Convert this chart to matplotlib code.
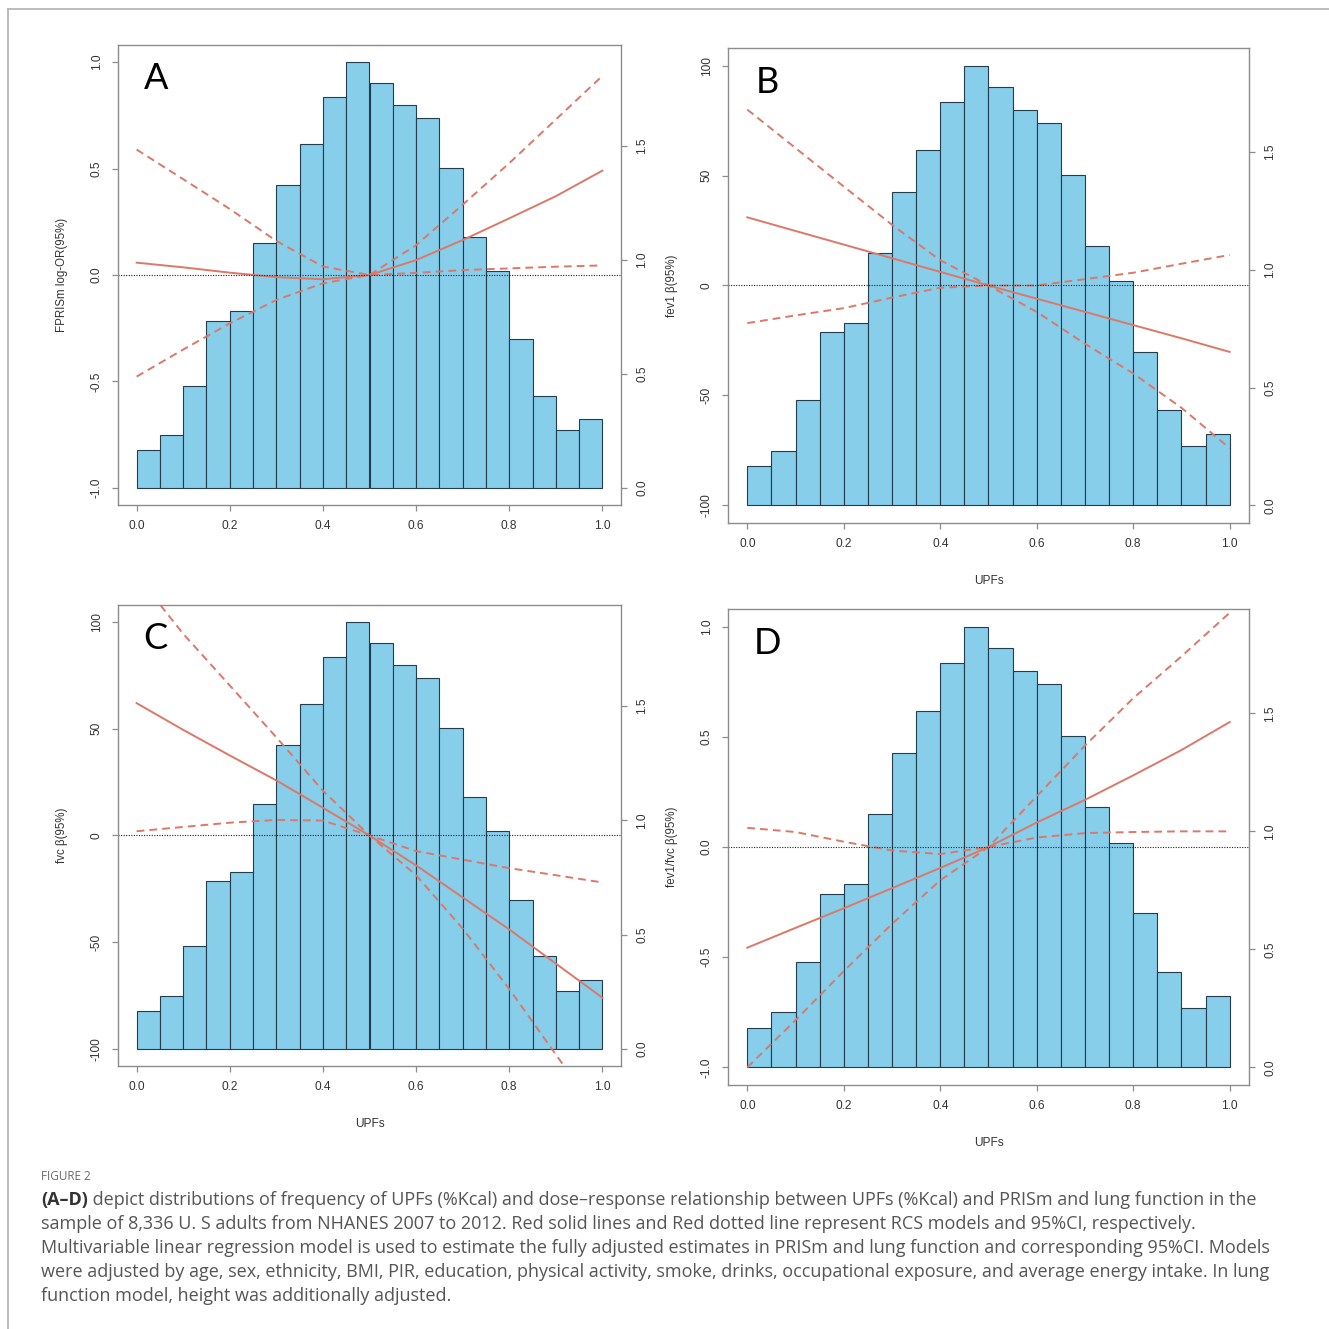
import matplotlib
matplotlib.use("Agg")
import matplotlib.pyplot as plt
from matplotlib.lines import Line2D

W, H = 1329, 1329

# ---- data ----
bin_left = [0.00, 0.05, 0.10, 0.15, 0.20, 0.25, 0.30, 0.35, 0.40, 0.45,
            0.50, 0.55, 0.60, 0.65, 0.70, 0.75, 0.80, 0.85, 0.90, 0.95]
density = [0.168, 0.233, 0.448, 0.734, 0.776, 1.072, 1.330, 1.509, 1.714, 1.867,
           1.776, 1.680, 1.623, 1.403, 1.101, 0.952, 0.653, 0.405, 0.252, 0.302]

upf = [0.0, 0.1, 0.2, 0.3, 0.4, 0.5, 0.6, 0.7, 0.8, 0.9, 1.0]

# A: PRISm log-OR
a_fit = [0.058, 0.036, 0.011, -0.010, -0.020, 0.0, 0.070, 0.164, 0.266, 0.370, 0.490]
a_ci1 = [-0.477, -0.350, -0.227, -0.117, -0.039, 0.0, 0.140, 0.330, 0.525, 0.730, 0.935]
a_ci2 = [0.589, 0.450, 0.310, 0.160, 0.040, 0.0, 0.010, 0.023, 0.031, 0.039, 0.045]

# B: fev1 beta
b_fit = [31.0, 24.8, 18.6, 12.4, 6.2, 0.0, -6.0, -12.0, -18.0, -24.0, -30.2]
b_ci1 = [80.0, 62.5, 45.0, 27.6, 11.5, 0.0, -12.0, -26.5, -40.0, -55.6, -74.0]
b_ci2 = [-17.1, -13.6, -10.3, -5.5, -1.0, 0.0, 0.0, 2.9, 5.8, 9.9, 13.9]

# C: fvc beta
c_fit = [62.0, 49.5, 37.5, 25.8, 13.0, 0.0, -14.0, -29.0, -44.0, -60.0, -76.0]
c_ci1 = [122.0, 94.5, 70.3, 46.0, 21.0, 0.0, -18.6, -43.6, -71.9, -102.6, -133.0]
c_ci2 = [2.0, 4.0, 6.0, 7.3, 7.0, 0.0, -7.3, -11.3, -15.3, -18.6, -22.0]

# D: fev1/fvc beta
d_fit = [-0.457, -0.367, -0.278, -0.187, -0.095, 0.0, 0.111, 0.214, 0.325, 0.440, 0.567]
d_ci1 = [-1.000, -0.786, -0.563, -0.349, -0.151, 0.0, 0.230, 0.460, 0.675, 0.865, 1.063]
d_ci2 = [0.087, 0.068, 0.024, -0.016, -0.032, 0.0, 0.043, 0.063, 0.068, 0.071, 0.071]

x_ticks = [0.0, 0.2, 0.4, 0.6, 0.8, 1.0]
dens_ticks = [0.0, 0.5, 1.0, 1.5]

caption_lines = [
    " depict distributions of frequency of UPFs (%Kcal) and dose\u2013response relationship between UPFs (%Kcal) and PRISm and lung function in the",
    "sample of 8,336 U. S adults from NHANES 2007 to 2012. Red solid lines and Red dotted line represent RCS models and 95%CI, respectively.",
    "Multivariable linear regression model is used to estimate the fully adjusted estimates in PRISm and lung function and corresponding 95%CI. Models",
    "were adjusted by age, sex, ethnicity, BMI, PIR, education, physical activity, smoke, drinks, occupational exposure, and average energy intake. In lung",
    "function model, height was additionally adjusted.",
]

# ---- panels: (letter, fit, ci1, ci2, ylim half-range, ylabel, show xlabel, pixel box l, r, t, b)
panels = [
    ("A", a_fit, a_ci1, a_ci2, 1.0, "FPRISm log-OR(95%)", False, 118, 621, 45, 505),
    ("B", b_fit, b_ci1, b_ci2, 100, "fev1 \u03b2(95%)", True, 728, 1249, 48, 523),
    ("C", c_fit, c_ci1, c_ci2, 100, "fvc \u03b2(95%)", True, 118, 621, 605, 1066),
    ("D", d_fit, d_ci1, d_ci2, 1.0, "fev1/fvc \u03b2(95%)", True, 728, 1249, 609, 1085),
]

line_col = "#dc7868"
box_col = "#8c8c8c"
tick_font = "Liberation Sans"

fig = plt.figure(figsize=(W / 100, H / 100), dpi=100)
fig.patch.set_facecolor("white")

dmax = max(density)
for letter, fit, ci1, ci2, yr, ylab, xlab, l, r, t, b in panels:
    rect = [l / W, 1 - b / H, (r - l) / W, (b - t) / H]
    ax = fig.add_axes(rect)
    ax2 = ax.twinx()
    ax.set_zorder(ax2.get_zorder() + 1)
    ax.patch.set_visible(False)

    ax2.bar(bin_left, density, width=0.05, align="edge", color="#87CEEB",
            edgecolor="#243c4c", linewidth=0.8)
    ax2.set_ylim(-0.04 * dmax, 1.04 * dmax)
    ax2.set_yticks(dens_ticks)
    ax2.set_yticklabels([f"{v:.1f}" for v in dens_ticks])
    for s in ax2.spines.values():
        s.set_visible(False)

    ax.plot(upf, ci1, color=line_col, lw=1.4, ls=(0, (4, 2.6)))
    ax.plot(upf, ci2, color=line_col, lw=1.4, ls=(0, (4, 2.6)))
    ax.plot(upf, fit, color=line_col, lw=1.4)
    ax.axhline(0, color="#222222", lw=0.8, ls=(0, (1, 1.3)))

    ax.set_xlim(-0.04, 1.04)
    ax.set_ylim(-1.08 * yr, 1.08 * yr)
    ax.set_xticks(x_ticks)
    ax.set_xticklabels([f"{v:.1f}" for v in x_ticks])
    yt = [-yr, -yr / 2, 0, yr / 2, yr]
    ax.set_yticks(yt)
    if yr == 1.0:
        ax.set_yticklabels([f"{v:.1f}" for v in yt])
    else:
        ax.set_yticklabels([f"{v:.0f}" for v in yt])

    for s in ax.spines.values():
        s.set_color(box_col)
        s.set_linewidth(1.0)

    for a in (ax, ax2):
        a.tick_params(length=4, width=0.9, color=box_col, labelsize=8.6,
                      labelcolor="#333333", pad=7)
    ax.tick_params(axis="y", labelrotation=90)
    ax2.tick_params(axis="y", labelrotation=90)
    for lab in ax.get_yticklabels() + ax2.get_yticklabels():
        lab.set_va("center")
        lab.set_family(tick_font)
    for lab in ax.get_xticklabels():
        lab.set_family(tick_font)

    ax.set_ylabel(ylab, fontsize=8.3, color="#333333", family=tick_font)
    ax.yaxis.set_label_coords(-50 / (r - l), 0.5)
    if xlab:
        ax.set_xlabel("UPFs", fontsize=8.6, color="#333333", family=tick_font)
        ax.xaxis.set_label_coords(0.5, -52 / (b - t))

    ax.text(0.075, 0.928, letter, transform=ax.transAxes, fontsize=26,
            family="Lato", color="black", ha="center", va="center")

# ---- frame lines of the journal page ----
fig.add_artist(Line2D([7.5 / W, 1.0], [1 - 9 / H, 1 - 9 / H], color="#b0b0b0", lw=1.2))
fig.add_artist(Line2D([7.5 / W, 7.5 / W], [0.0, 1 - 9 / H], color="#b0b0b0", lw=1.2))

# ---- caption ----
cap_font = "Open Sans"
cap_col = "#555555"
fig.text(41 / W, 1 - 1177 / H, "FIGURE 2", fontsize=8.5, color="#6a6a6a",
         family=cap_font, va="center", ha="left")

renderer = fig.canvas.get_renderer()
size = 11.0
bold = fig.text(41 / W, 1 - 1200 / H, "(A\u2013D)", fontsize=size, color="#333333",
                family=cap_font, weight="bold", va="center", ha="left")
first = fig.text(0, 1 - 1200 / H, caption_lines[0], fontsize=size, color=cap_col,
                 family=cap_font, va="center", ha="left")
# fit first caption line width to the page column (41..1256 px)
for _ in range(3):
    wb = bold.get_window_extent(renderer).width
    wf = first.get_window_extent(renderer).width
    size = size * (1256 - 41) / (wb + wf)
    bold.set_fontsize(size)
    first.set_fontsize(size)
wb = bold.get_window_extent(renderer).width
first.set_x((41 + wb) / W)

for i, txt in enumerate(caption_lines[1:]):
    fig.text(41 / W, 1 - (1224 + 24 * i) / H, txt, fontsize=size, color=cap_col,
             family=cap_font, va="center", ha="left")

fig.savefig("out.png", dpi=100, facecolor="white")
